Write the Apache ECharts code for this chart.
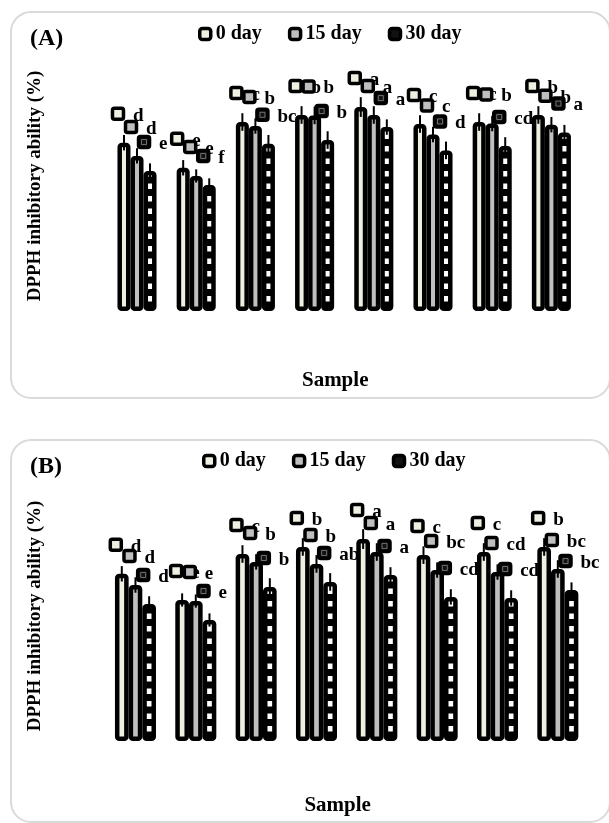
<!DOCTYPE html>
<html>
<head>
<meta charset="utf-8">
<script src="https://cdn.jsdelivr.net/npm/echarts@6/dist/echarts.min.js"></script>
<style>
  html, body { margin: 0; padding: 0; background: #fff; }
  #chart { width: 609px; height: 823px; }
</style>
</head>
<body>
<div id="chart"></div>
<script>
// Samples (categories) and storage times
const samples = ['S1', 'S2', 'S3', 'S4', 'S5', 'S6', 'S7', 'S8'];
const dayNames = ['0 day', '15 day', '30 day'];

// Panel (A): DPPH inhibitory ability (%) per storage time
const aDay0  = [76.5, 65.1, 85.9, 89.1, 92.7, 85.0, 85.9, 89.1];
const aDay15 = [70.5, 61.4, 84.1, 88.9, 89.1, 80.2, 85.2, 84.7];
const aDay30 = [63.6, 57.3, 76.0, 77.7, 83.6, 73.0, 75.0, 81.1];
const aErr0  = [3.5, 3.5, 4.0, 4.0, 4.5, 4.0, 4.0, 4.0];
const aErr15 = [3.5, 3.0, 3.5, 4.0, 4.0, 3.5, 3.5, 3.5];
const aErr30 = [3.5, 3.0, 4.0, 4.0, 3.5, 4.0, 4.0, 3.5];
const aSig0  = ['d', 'e', 'c', 'b', 'a', 'c', 'c', 'b'];
const aSig15 = ['d', 'e', 'b', 'b', 'a', 'c', 'b', 'b'];
const aSig30 = ['e', 'f', 'bc', 'b', 'a', 'd', 'cd', 'a'];

// Panel (B)
const bDay0  = [76.0, 64.1, 85.0, 88.2, 91.8, 84.5, 85.9, 88.2];
const bDay15 = [70.9, 63.6, 81.4, 80.5, 85.9, 77.7, 76.8, 78.2];
const bDay30 = [62.3, 55.0, 70.0, 72.3, 75.5, 65.5, 65.0, 68.6];
const bErr0  = [3.5, 3.0, 4.0, 4.0, 4.5, 4.0, 4.0, 4.0];
const bErr15 = [3.5, 3.0, 3.5, 4.0, 4.0, 3.5, 3.5, 4.0];
const bErr30 = [3.5, 3.0, 4.0, 4.0, 3.5, 3.5, 3.5, 3.5];
const bSig0  = ['d', 'e', 'c', 'b', 'a', 'c', 'c', 'b'];
const bSig15 = ['d', 'e', 'b', 'b', 'a', 'bc', 'cd', 'bc'];
const bSig30 = ['d', 'e', 'b', 'ab', 'a', 'cd', 'cd', 'bc'];

const serif = "'Liberation Serif', 'Times New Roman', serif";
const fills = ['#eef0e1', '#bfbfbf', '#ffffff'];
const keyFills = ['#eef0e1', '#bfbfbf', '#111111'];

const panels = [
  { values: [aDay0, aDay15, aDay30], errs: [aErr0, aErr15, aErr30], sigs: [aSig0, aSig15, aSig30], gap: 0.34 },
  { values: [bDay0, bDay15, bDay30], errs: [bErr0, bErr15, bErr30], sigs: [bSig0, bSig15, bSig30], gap: 0.32 }
];

function barSeries(k, d, panel) {
  return {
    type: 'bar', name: dayNames[d], xAxisIndex: k, yAxisIndex: k,
    data: panel.values[d],
    barGap: '0%', barCategoryGap: (panel.gap * 100) + '%',
    itemStyle: { color: fills[d], borderColor: '#000', borderWidth: 4.5, borderRadius: 2 },
    emphasis: { disabled: true },
    z: 2
  };
}

// checker pattern inside the 30-day bars
function stripeSeries(k, panel) {
  const gap = panel.gap;
  return {
    type: 'custom', xAxisIndex: k, yAxisIndex: k, z: 3, silent: true,
    data: panel.values[2].map((v, i) => [i, v]),
    renderItem(params, api) {
      const i = api.value(0), v = api.value(1);
      const base = api.coord([i, 0]);
      const top = api.coord([i, v]);
      const w = api.size([1, 0])[0] * (1 - gap) / 3;
      const cx = base[0] + w;
      const sq = 7, period = 12.5;
      const children = [];
      let yb = base[1] - 2.5;
      while (yb - sq >= top[1] + 2) {
        children.push({ type: 'rect', shape: { x: cx - sq / 2, y: yb - sq, width: sq, height: sq }, style: { fill: '#000' } });
        yb -= period;
      }
      return { type: 'group', children };
    }
  };
}

// error bar, legend-key square and significance letter for each bar
function annotSeries(k, d, panel) {
  const gap = panel.gap;
  const sig = panel.sigs[d];
  return {
    type: 'custom', xAxisIndex: k, yAxisIndex: k, z: 4, silent: true,
    data: panel.values[d].map((v, i) => [i, v, panel.errs[d][i]]),
    renderItem(params, api) {
      const i = api.value(0), v = api.value(1), e = api.value(2);
      const w = api.size([1, 0])[0] * (1 - gap) / 3;
      const top = api.coord([i, v]);
      const x = top[0] + (d - 1) * w;
      const hi = api.coord([i, v + e])[1];
      const lo = api.coord([i, v - e])[1];
      const kx = x - 6, ky = top[1] - 29;
      const children = [
        { type: 'line', shape: { x1: x, y1: hi, x2: x, y2: lo }, style: { stroke: '#000', lineWidth: 2 } },
        { type: 'rect', shape: { x: kx - 5.5, y: ky - 5.5, width: 11, height: 11, r: 2 },
          style: { fill: keyFills[d], stroke: '#000', lineWidth: 3.5 } }
      ];
      if (d === 2) {
        children.push({ type: 'rect', shape: { x: kx - 2.5, y: ky - 2.5, width: 5, height: 5 },
          style: { fill: 'none', stroke: '#888', lineWidth: 0.8 } });
      }
      children.push({ type: 'text', style: { x: kx + 15, y: ky + 2, text: sig[i], align: 'left', verticalAlign: 'middle',
        font: 'bold 19px ' + serif, fill: '#000' } });
      return { type: 'group', children };
    }
  };
}

const series = [];
panels.forEach((p, k) => {
  for (let d = 0; d < 3; d++) series.push(barSeries(k, d, p));
  series.push(stripeSeries(k, p));
  for (let d = 0; d < 3; d++) series.push(annotSeries(k, d, p));
});

const legendBase = {
  orient: 'horizontal', icon: 'roundRect', itemWidth: 11, itemHeight: 11, itemGap: 26,
  selectedMode: false, padding: 0,
  textStyle: { fontFamily: serif, fontWeight: 'bold', fontSize: 20, color: '#000' },
  data: dayNames.map((n, d) => ({ name: n, itemStyle: { color: keyFills[d], borderColor: '#000', borderWidth: 3.5 } }))
};

function xAxisFor(k, gapName) {
  return {
    gridIndex: k, type: 'category', data: samples,
    axisLine: { show: false }, axisTick: { show: false }, axisLabel: { show: false },
    name: 'Sample', nameLocation: 'middle', nameGap: gapName,
    nameTextStyle: { fontFamily: serif, fontWeight: 'bold', fontSize: 21, color: '#000', padding: [0, 18, 0, 0] }
  };
}
function yAxisFor(k, gapName) {
  return {
    gridIndex: k, type: 'value', min: 0, max: 100,
    axisLine: { show: false }, axisTick: { show: false }, axisLabel: { show: false }, splitLine: { show: false },
    name: 'DPPH inhibitory ability (%)', nameLocation: 'middle', nameGap: gapName,
    nameTextStyle: { fontFamily: serif, fontWeight: 'bold', fontSize: 19, color: '#000', padding: [0, 0, 0, 30] }
  };
}

const chart = echarts.init(document.getElementById('chart'), null, { renderer: 'canvas' });
chart.setOption({
  animation: false,
  backgroundColor: '#fff',
  title: [
    { text: '(A)', left: 30, top: 27, padding: 0, textStyle: { fontFamily: serif, fontWeight: 'bold', fontSize: 24, color: '#000' } },
    { text: '(B)', left: 30, top: 455, padding: 0, textStyle: { fontFamily: serif, fontWeight: 'bold', fontSize: 24, color: '#000' } }
  ],
  legend: [
    Object.assign({}, legendBase, { left: 198, top: 24 }),
    Object.assign({}, legendBase, { left: 202, top: 451 })
  ],
  graphic: [
    { type: 'rect', shape: { x: 11, y: 12, width: 599, height: 386, r: 20 }, style: { fill: 'none', stroke: '#dadada', lineWidth: 2 }, z: 0 },
    { type: 'rect', shape: { x: 11, y: 440, width: 599, height: 382, r: 20 }, style: { fill: 'none', stroke: '#dadada', lineWidth: 2 }, z: 0 }
  ],
  grid: [
    { left: 107.4, right: 28, top: 91, bottom: 512 },
    { left: 105.3, right: 21, top: 521, bottom: 82 }
  ],
  xAxis: [xAxisFor(0, 59), xAxisFor(1, 54)],
  yAxis: [yAxisFor(0, 63), yAxisFor(1, 61)],
  series: series
});
</script>
</body>
</html>
